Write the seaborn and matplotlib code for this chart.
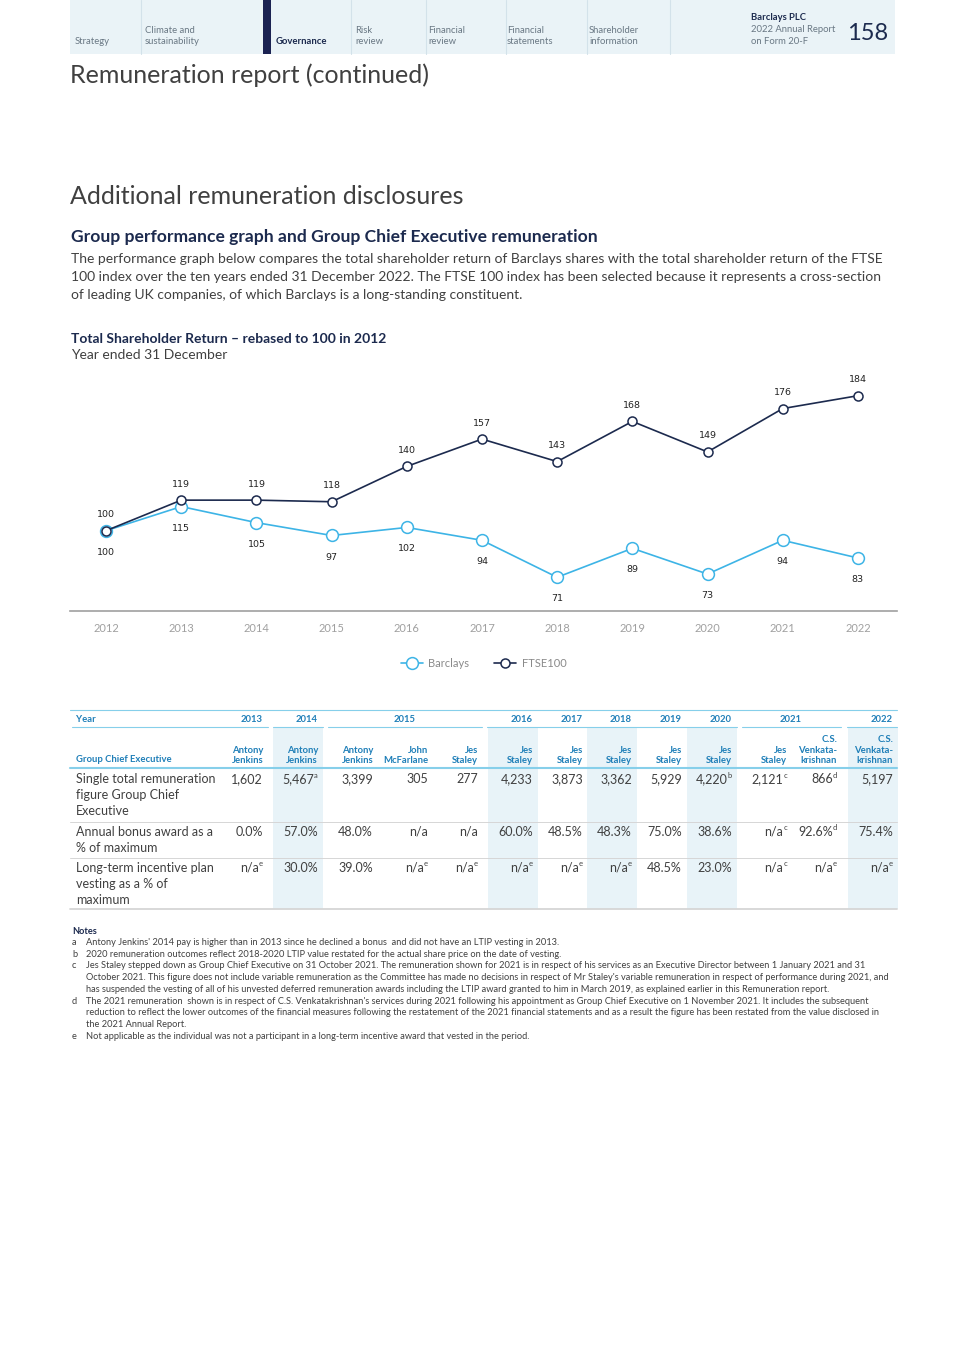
import matplotlib
matplotlib.use('Agg')
import matplotlib.pyplot as plt
import seaborn as sns
import pandas as pd
from matplotlib.patches import Rectangle

# Chart data
years = [2012, 2013, 2014, 2015, 2016, 2017, 2018, 2019, 2020, 2021, 2022]
barclays = [100, 115, 105, 97, 102, 94, 71, 89, 73, 94, 83]
ftse100 = [100, 119, 119, 118, 140, 157, 143, 168, 149, 176, 184]

# Table data
year_groups = [("2013", 0, 0), ("2014", 1, 1), ("2015", 2, 4), ("2016", 5, 5),
               ("2017", 6, 6), ("2018", 7, 7), ("2019", 8, 8), ("2020", 9, 9),
               ("2021", 10, 11), ("2022", 12, 12)]
ceo_names = ["Antony\nJenkins", "Antony\nJenkins", "Antony\nJenkins", "John\nMcFarlane",
             "Jes\nStaley", "Jes\nStaley", "Jes\nStaley", "Jes\nStaley", "Jes\nStaley",
             "Jes\nStaley", "Jes\nStaley", "C.S.\nVenkata-\nkrishnan", "C.S.\nVenkata-\nkrishnan"]
row_labels = ["Single total remuneration\nfigure Group Chief\nExecutive",
              "Annual bonus award as a\n% of maximum",
              "Long-term incentive plan\nvesting as a % of\nmaximum"]
single_total = ["1,602", "5,467|a", "3,399", "305", "277", "4,233", "3,873", "3,362",
                "5,929", "4,220|b", "2,121|c", "866|d", "5,197"]
bonus_pct = ["0.0%", "57.0%", "48.0%", "n/a", "n/a", "60.0%", "48.5%", "48.3%",
             "75.0%", "38.6%", "n/a|c", "92.6%|d", "75.4%"]
ltip_pct = ["n/a|e", "30.0%", "39.0%", "n/a|e", "n/a|e", "n/a|e", "n/a|e", "n/a|e",
            "48.5%", "23.0%", "n/a|c", "n/a|e", "n/a|e"]
table_rows = [single_total, bonus_pct, ltip_pct]

notes = [
    ("a", ["Antony Jenkins' 2014 pay is higher than in 2013 since he declined a bonus  and did not have an LTIP vesting in 2013."]),
    ("b", ["2020 remuneration outcomes reflect 2018-2020 LTIP value restated for the actual share price on the date of vesting."]),
    ("c", ["Jes Staley stepped down as Group Chief Executive on 31 October 2021. The remuneration shown for 2021 is in respect of his services as an Executive Director between 1 January 2021 and 31",
           "October 2021. This figure does not include variable remuneration as the Committee has made no decisions in respect of Mr Staley's variable remuneration in respect of performance during 2021, and",
           "has suspended the vesting of all of his unvested deferred remuneration awards including the LTIP award granted to him in March 2019, as explained earlier in this Remuneration report."]),
    ("d", ["The 2021 remuneration  shown is in respect of C.S. Venkatakrishnan's services during 2021 following his appointment as Group Chief Executive on 1 November 2021. It includes the subsequent",
           "reduction to reflect the lower outcomes of the financial measures following the restatement of the 2021 financial statements and as a result the figure has been restated from the value disclosed in",
           "the 2021 Annual Report."]),
    ("e", ["Not applicable as the individual was not a participant in a long-term incentive award that vested in the period."]),
]

intro_lines = [
    "The performance graph below compares the total shareholder return of Barclays shares with the total shareholder return of the FTSE",
    "100 index over the ten years ended 31 December 2022. The FTSE 100 index has been selected because it represents a cross-section",
    "of leading UK companies, of which Barclays is a long-standing constituent.",
]

nav_items = [("Strategy", 75), ("Climate and\nsustainability", 145), ("Governance", 276),
             ("Risk\nreview", 355), ("Financial\nreview", 428), ("Financial\nstatements", 507),
             ("Shareholder\ninformation", 589)]

NAVY = '#1c2a4e'
HDR_BLUE = '#1f7fb8'
TEXT = '#404040'
LIGHT_BLUE = '#3db4e6'
LINE_BLUE = '#86cfea'
SHADE = '#e8f3f8'
BODY = 'normal'

sns.set_theme(style='white')
plt.rcParams['font.family'] = ['Lato', 'DejaVu Sans']

W, H = 965, 1365
fig = plt.figure(figsize=(W / 100, H / 100), dpi=100)
fig.patch.set_facecolor('white')

# page canvas in pixel coordinates
bg = fig.add_axes([0, 0, 1, 1])
bg.set_xlim(0, W)
bg.set_ylim(H, 0)
bg.axis('off')

# navigation band
bg.add_patch(Rectangle((70, 0), 825, 54, color='#eaf3f7', lw=0))
for sx in [141, 351, 426, 506, 587, 670]:
    bg.plot([sx, sx], [0, 54], color='#d3e2ea', lw=0.8)
bg.add_patch(Rectangle((263, 0), 8, 54, color='#1b2252', lw=0))
for label, x in nav_items:
    if label == "Governance":
        bg.text(x, 46, label, fontsize=6.8, fontweight='bold', color=NAVY, va='bottom')
    else:
        bg.text(x, 46, label, fontsize=6.8, fontweight=BODY, color='#6a7884',
                va='bottom', linespacing=1.25)
bg.text(751, 18, "Barclays PLC", fontsize=6.8, fontweight='bold', color=NAVY, va='center')
bg.text(751, 30, "2022 Annual Report", fontsize=6.8, fontweight=BODY, color='#6a7884', va='center')
bg.text(751, 41, "on Form 20-F", fontsize=6.8, fontweight=BODY, color='#6a7884', va='center')
bg.text(847, 33, "158", fontsize=17, fontweight=BODY, color=NAVY, va='center')

# headings
bg.text(70, 75, "Remuneration report (continued)", fontsize=18, fontweight=BODY, color=TEXT, va='center')
bg.text(70, 196, "Additional remuneration disclosures", fontsize=18, fontweight=BODY, color=TEXT, va='center')
bg.text(71, 237, "Group performance graph and Group Chief Executive remuneration", fontsize=12.6,
        fontweight='bold', color=NAVY, va='center')
for i, line in enumerate(intro_lines):
    bg.text(71, 259 + i * 18, line, fontsize=10, fontweight=BODY, color=TEXT, va='center')
bg.text(71, 339, "Total Shareholder Return \u2013 rebased to 100 in 2012", fontsize=10,
        fontweight='bold', color=NAVY, va='center')
bg.text(71, 355, "Year ended 31 December", fontsize=10, fontweight=BODY, color=TEXT, va='center')

# chart
ax = fig.add_axes([70 / W, 1 - 611 / H, 827 / W, 241 / H])
df = pd.DataFrame({'year': years * 2, 'tsr': barclays + ftse100,
                   'series': ['Barclays'] * len(years) + ['FTSE100'] * len(years)})
sns.lineplot(data=df[df.series == 'Barclays'], x='year', y='tsr', ax=ax, color=LIGHT_BLUE,
             lw=1.2, marker='o', markersize=8.5, markerfacecolor='white',
             markeredgecolor=LIGHT_BLUE, markeredgewidth=1.1, label='Barclays')
sns.lineplot(data=df[df.series == 'FTSE100'], x='year', y='tsr', ax=ax, color=NAVY,
             lw=1.2, marker='o', markersize=6.5, markerfacecolor='white',
             markeredgecolor=NAVY, markeredgewidth=1.1, label='FTSE100')
for x, b, f in zip(years, barclays, ftse100):
    ax.annotate(str(f), (x, f), xytext=(0, 11.5), textcoords='offset points', ha='center',
                va='center', fontsize=6.8, color='#222222', family='DejaVu Sans')
    ax.annotate(str(b), (x, b), xytext=(0, -15.5), textcoords='offset points', ha='center',
                va='center', fontsize=6.8, color='#222222', family='DejaVu Sans')
ax.set_xlim(2011.52, 2022.52)
ax.set_ylim(50, 200)
ax.set_xticks(years)
ax.set_xticklabels([str(y) for y in years])
ax.set_yticks([])
ax.set_xlabel('')
ax.set_ylabel('')
ax.tick_params(axis='x', length=0, pad=9, labelsize=8, labelcolor='#a0a0a0')
for s in ['top', 'left', 'right']:
    ax.spines[s].set_visible(False)
ax.spines['bottom'].set_color('#a0a0a0')
ax.spines['bottom'].set_linewidth(1.2)
ax.patch.set_alpha(0)
leg = ax.legend(loc='center', bbox_to_anchor=(0.5, -0.216), ncol=2, frameon=False,
                fontsize=8, handlelength=2.0, columnspacing=2.2, handletextpad=0.5)
for t in leg.get_texts():
    t.set_color('#8a8a8a')

# table
col_right = [263, 318, 373, 428, 478, 533, 583, 632, 682, 732, 787, 837, 893]
shaded = [1, 5, 7, 9, 12]
for c in shaded:
    bg.add_patch(Rectangle((col_right[c] - 45, 728), 50, 181, color=SHADE, lw=0))
bg.plot([70, 897], [710, 710], color=LINE_BLUE, lw=0.8)
for x0, x1 in [(72, 268), (273, 323), (328, 482), (487, 737), (742, 841), (847, 897)]:
    bg.plot([x0, x1], [727, 727], color=LINE_BLUE, lw=0.8)
bg.plot([70, 897], [768, 768], color=LINE_BLUE, lw=1.5)
bg.plot([70, 897], [822, 822], color='#d6d6d6', lw=0.7)
bg.plot([70, 897], [858, 858], color='#d6d6d6', lw=0.7)
bg.plot([70, 897], [909, 909], color='#d6d6d6', lw=1.3)

bg.text(76, 720, "Year", fontsize=6.8, fontweight='bold', color=HDR_BLUE, va='center')
for label, i0, i1 in year_groups:
    if i0 == i1:
        bg.text(col_right[i0], 720, label, fontsize=6.8, fontweight='bold', color=HDR_BLUE,
                va='center', ha='right')
    else:
        xc = (col_right[i0] - 46 + col_right[i1] + 4) / 2
        bg.text(xc, 720, label, fontsize=6.8, fontweight='bold', color=HDR_BLUE,
                va='center', ha='center')
bg.text(76, 760, "Group Chief Executive", fontsize=6.8, fontweight='bold', color=HDR_BLUE, va='center')
for c, name in enumerate(ceo_names):
    bg.text(col_right[c], 765, name, fontsize=6.8, fontweight='bold', color=HDR_BLUE,
            va='bottom', ha='right', linespacing=1.2, multialignment='right')

row_centres = [779, 832, 868]
for r, (lab, vals) in enumerate(zip(row_labels, table_rows)):
    for k, part in enumerate(lab.split('\n')):
        bg.text(76, row_centres[r] + 16 * k, part, fontsize=9.0, fontweight=BODY,
                color=TEXT, va='center')
    for c, v in enumerate(vals):
        if '|' in v:
            main, sup = v.split('|')
            bg.text(col_right[c] - 4.2, row_centres[r], main, fontsize=9.0, fontweight=BODY,
                    color=TEXT, va='center', ha='right')
            bg.text(col_right[c], row_centres[r] - 4, sup, fontsize=5.5, fontweight=BODY,
                    color=TEXT, va='center', ha='right')
        else:
            bg.text(col_right[c], row_centres[r], v, fontsize=9.0, fontweight=BODY,
                    color=TEXT, va='center', ha='right')

# notes
bg.text(72, 931, "Notes", fontsize=6.7, fontweight='bold', color=NAVY, va='center')
y = 942.5
for letter, lines in notes:
    bg.text(72, y, letter, fontsize=6.7, fontweight=BODY, color=TEXT, va='center')
    for line in lines:
        bg.text(86, y, line, fontsize=6.7, fontweight=BODY, color=TEXT, va='center')
        y += 11.7

fig.savefig('out.png', dpi=100)
